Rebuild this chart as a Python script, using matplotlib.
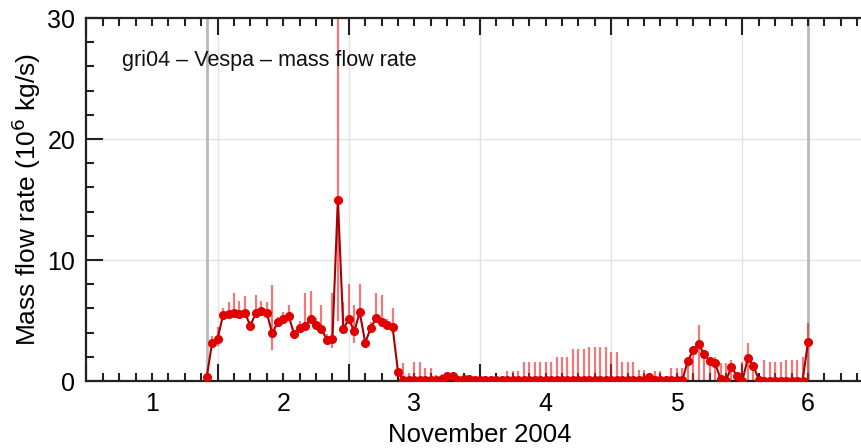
import numpy as np
import matplotlib
matplotlib.use("Agg")
import matplotlib.pyplot as plt
from matplotlib.ticker import MultipleLocator, FuncFormatter

# ---------------- data ----------------
first_hour = 22          # first hourly sample: 1 Nov 2004 22:00 (hours since 1 Nov 00:00)
flow = [0.3, 3.17, 3.5, 5.45, 5.5, 5.6, 5.5, 5.6, 4.57, 5.65,
        5.8, 5.6, 3.94, 4.88, 5.1, 5.37, 3.88, 4.35, 4.55, 5.12,
        4.63, 4.3, 3.39, 3.45, 15.0, 4.3, 5.13, 4.1, 5.67, 3.17,
        4.35, 5.2, 4.9, 4.63, 4.49, 0.77, 0.05, 0.05, 0.05, 0.05,
        0.05, 0.1, 0.1, 0.15, 0.45, 0.4, 0.1, 0.2, 0.15, 0.05,
        0.1, 0.05, 0.05, 0.05, 0.05, 0.05, 0.05, 0.05, 0.05, 0.05,
        0.05, 0.05, 0.05, 0.05, 0.05, 0.05, 0.05, 0.05, 0.05, 0.05,
        0.05, 0.05, 0.1, 0.05, 0.05, 0.05, 0.05, 0.05, 0.05, 0.05,
        0.05, 0.35, 0.05, 0.05, 0.1, 0.05, 0.05, 0.05, 1.65, 2.56,
        3.05, 2.2, 1.68, 1.46, 0.2, 0.02, 1.18, 0.4, 0.02, 1.9,
        1.27, 0.1, 0.03, 0.03, 0.03, 0.03, 0.03, 0.03, 0.03, 0.03, 3.2]
upper = [0.5, 3.7, 4.5, 6.0, 6.55, 7.25, 6.6, 7.0, 5.0, 7.1,
         6.6, 6.5, 7.95, 5.3, 5.7, 6.3, 4.2, 5.0, 7.25, 7.4,
         5.2, 6.3, 3.9, 7.25, 40.0, 6.55, 8.05, 6.3, 8.05, 3.5,
         4.9, 7.25, 7.1, 5.1, 6.0, 1.0, 1.5, 0.63, 1.6, 1.6,
         1.05, 1.05, 0.5, 0.6, 0.6, 0.5, 0.2, 0.4, 0.3, 0.2,
         0.25, 0.2, 0.2, 0.2, 0.2, 0.86, 0.86, 0.86, 1.6, 1.6,
         1.6, 1.6, 1.6, 1.6, 1.95, 1.95, 1.95, 2.64, 2.64, 2.64,
         2.78, 2.78, 2.78, 2.78, 2.42, 2.42, 1.6, 1.6, 1.6, 0.87,
         0.87, 0.45, 0.86, 0.86, 0.35, 1.05, 1.05, 1.05, 1.8, 2.8,
         4.6, 2.6, 1.9, 2.0, 1.46, 1.46, 1.74, 0.6, 1.6, 3.17,
         1.5, 0.2, 1.7, 1.6, 1.6, 1.6, 1.7, 1.7, 1.7, 2.0, 4.77]
lower = [0.3, 2.83, 2.9, 5.45, 5.5, 5.6, 5.5, 5.6, 4.57, 5.65,
         5.8, 5.6, 2.6, 4.88, 5.1, 5.37, 3.88, 4.35, 4.55, 5.12,
         4.63, 4.3, 3.39, 2.7, 5.0, 4.3, 5.13, 3.1, 5.67, 2.9,
         4.35, 5.2, 4.9, 4.63, 4.49, 0.77, 0, 0, 0, 0,
         0, 0, 0, 0, 0, 0, 0, 0, 0, 0,
         0, 0, 0, 0, 0, 0, 0, 0, 0, 0,
         0, 0, 0, 0, 0, 0, 0, 0, 0, 0,
         0, 0, 0, 0, 0, 0, 0, 0, 0, 0,
         0, 0, 0, 0, 0, 0, 0, 0, 0, 0,
         0, 0, 0, 0, 0, 0, 0, 0, 0, 0,
         0, 0, 0, 0, 0, 0, 0, 0, 0, 0, 0]
day_labels = ["1", "2", "3", "4", "5", "6"]
eruption_marks = [22 / 24, 5.5]   # start / end of the analysed period (days since 1 Nov)
title_text = "gri04 \u2013 Vespa \u2013 mass flow rate"

# ---------------- plot ----------------
plt.rcParams['font.family'] = ['Liberation Sans', 'DejaVu Sans']

t = (first_hour + np.arange(len(flow))) / 24.0
flow = np.array(flow)
upper = np.array(upper)
lower = np.array(lower)

fig = plt.figure(figsize=(8.61, 4.48), dpi=100)
ax = fig.add_axes([86.4 / 861, 67 / 448, 787.2 / 861, 363 / 448])

ax.set_xlim(0, 6)
ax.set_ylim(0, 30)

# grid
for d in range(1, 6):
    ax.axvline(d, color='#e2e2e2', lw=1.0, zorder=0)
for yv in (10, 20):
    ax.axhline(yv, color='#e2e2e2', lw=1.0, zorder=0)
for m in eruption_marks:
    ax.axvline(m, color='#b8b8b8', lw=2.0, zorder=1)

# error bars
ax.vlines(t, lower, upper, color='#e82020', alpha=0.6, lw=1.6, zorder=2)
# line + markers
ax.plot(t, flow, color='#a80000', lw=1.5, zorder=3)
ax.plot(t, flow, ls='none', marker='o', ms=5.5, mfc='#e00000', mec='#e00000', zorder=4)

ax.text(0.0452, 0.884, title_text, transform=ax.transAxes, fontsize=15.5,
        ha='left', va='center', color='#111111')

# ticks
ax.xaxis.set_major_locator(MultipleLocator(1))
ax.xaxis.set_minor_locator(MultipleLocator(0.125))
ax.xaxis.set_major_formatter(FuncFormatter(lambda x, p: ''))

def minor_fmt(x, p):
    k = x - 0.5
    if abs(k - round(k)) < 1e-6 and 0 <= round(k) < len(day_labels):
        return day_labels[int(round(k))]
    return ''
ax.xaxis.set_minor_formatter(FuncFormatter(minor_fmt))

ax.yaxis.set_major_locator(MultipleLocator(10))
ax.yaxis.set_minor_locator(MultipleLocator(2))

ax.tick_params(which='both', direction='in', top=True, right=False, color='#222222',
               labelsize=18, width=1.5)
ax.tick_params(which='major', length=12, pad=8)
ax.tick_params(which='minor', length=6, pad=8)
for s in ax.spines.values():
    s.set_linewidth(1.6)
    s.set_color('#222222')

ax.set_xlabel("November 2004", fontsize=18.5, labelpad=5)
ax.set_ylabel("Mass flow rate (10$^6$ kg/s)", fontsize=19, labelpad=3)

fig.savefig("out.png", dpi=100)
